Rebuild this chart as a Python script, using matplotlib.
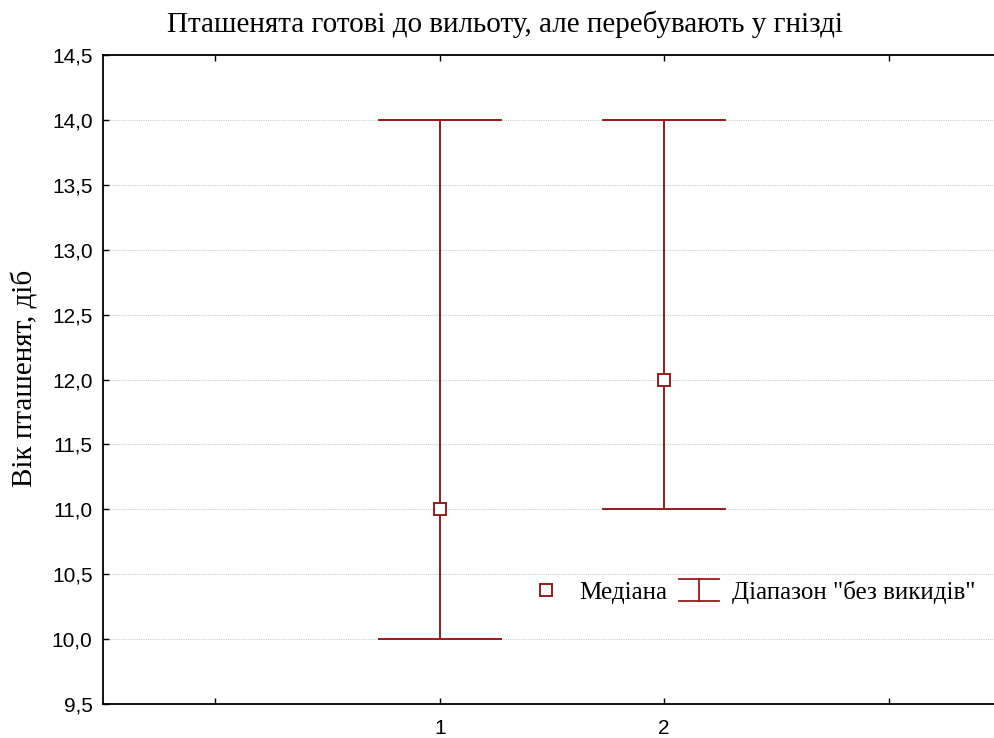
import numpy as np
import matplotlib
matplotlib.use("Agg")
import matplotlib.pyplot as plt
from matplotlib.lines import Line2D
from matplotlib.legend_handler import HandlerBase
from matplotlib.ticker import FuncFormatter

# data
groups = [1, 2]
medians = [11.0, 12.0]
lower = [10.0, 11.0]
upper = [14.0, 14.0]
x_ticks = [0, 1, 2, 3]
x_ticklabels = ["", "1", "2", ""]
y_ticks = [9.5, 10.0, 10.5, 11.0, 11.5, 12.0, 12.5, 13.0, 13.5, 14.0, 14.5]

title = "Пташенята готові до вильоту, але перебувають у гнізді"
ylabel = "Вік пташенят, діб"
legend_labels = ["Медіана", 'Діапазон "без викидів"']

RED = "#991a1a"
SERIF = "Liberation Serif"
SANS = "Liberation Sans"


class HandlerRange(HandlerBase):
    # I-beam symbol: top cap, vertical stem, bottom cap
    def create_artists(self, legend, orig, xd, yd, w, h, fontsize, trans):
        x0, x1 = xd + 0.0, xd + w
        xm = (x0 + x1) / 2
        ylo, yhi = yd - 0.15 * h, yd + 1.15 * h
        kw = dict(color=RED, lw=1.3, transform=trans)
        return [Line2D([x0, x1], [yhi, yhi], **kw),
                Line2D([xm, xm], [ylo, yhi], **kw),
                Line2D([x0, x1], [ylo, ylo], **kw)]


fig = plt.figure(figsize=(9.95, 7.38), dpi=100)
W, H = 995, 738
left, right, top, bottom = 103, 1001, 55, 704
ax = fig.add_axes([left / W, 1 - bottom / H, (right - left) / W, (bottom - top) / H])

yerr = [np.array(medians) - np.array(lower), np.array(upper) - np.array(medians)]
ax.errorbar(groups, medians, yerr=yerr, fmt="none", ecolor=RED,
            elinewidth=1.4, capsize=44.5, capthick=1.4, zorder=3)
ax.plot(groups, medians, ls="none", marker="s", ms=8, mfc="white",
        mec=RED, mew=1.4, zorder=4)

ax.set_xlim(-0.5, 3.5)
ax.set_ylim(9.5, 14.5)
ax.set_xticks(x_ticks)
ax.set_xticklabels(x_ticklabels)
ax.set_yticks(y_ticks)
ax.yaxis.set_major_formatter(FuncFormatter(lambda v, p: f"{v:.1f}".replace(".", ",")))
ax.grid(axis="y", color="#cccccc", ls=(0, (1, 1)), lw=0.8, zorder=0)
ax.tick_params(direction="in", length=4, width=1, top=True, right=False,
               labelsize=15, colors="black")
ax.tick_params(axis="y", pad=7.5)
ax.tick_params(axis="x", pad=11)
for lbl in ax.get_xticklabels() + ax.get_yticklabels():
    lbl.set_fontfamily(SANS)
for s in ["left", "bottom", "top"]:
    ax.spines[s].set_linewidth(1.3)
ax.spines["right"].set_visible(False)

fig.text(505 / W, 1 - 24 / H, title, ha="center", va="center",
         fontsize=21, family=SERIF)
fig.text(25 / W, 1 - 378 / H, ylabel, ha="center", va="center",
         rotation=90, fontsize=21, family=SERIF)

h_med = Line2D([], [], ls="none", marker="s", ms=8, mfc="white", mec=RED, mew=1.4)
h_rng = Line2D([], [], color=RED)
ax.legend([h_med, h_rng], legend_labels, handler_map={h_rng: HandlerRange()},
          loc="center left", bbox_to_anchor=(526 / W, 1 - 592 / H),
          bbox_transform=fig.transFigure, frameon=False, ncol=2,
          prop={"family": SERIF, "size": 18}, handlelength=1.6,
          handletextpad=0.52, columnspacing=0.48, borderpad=0, borderaxespad=0)

fig.savefig("out.png", dpi=100)
